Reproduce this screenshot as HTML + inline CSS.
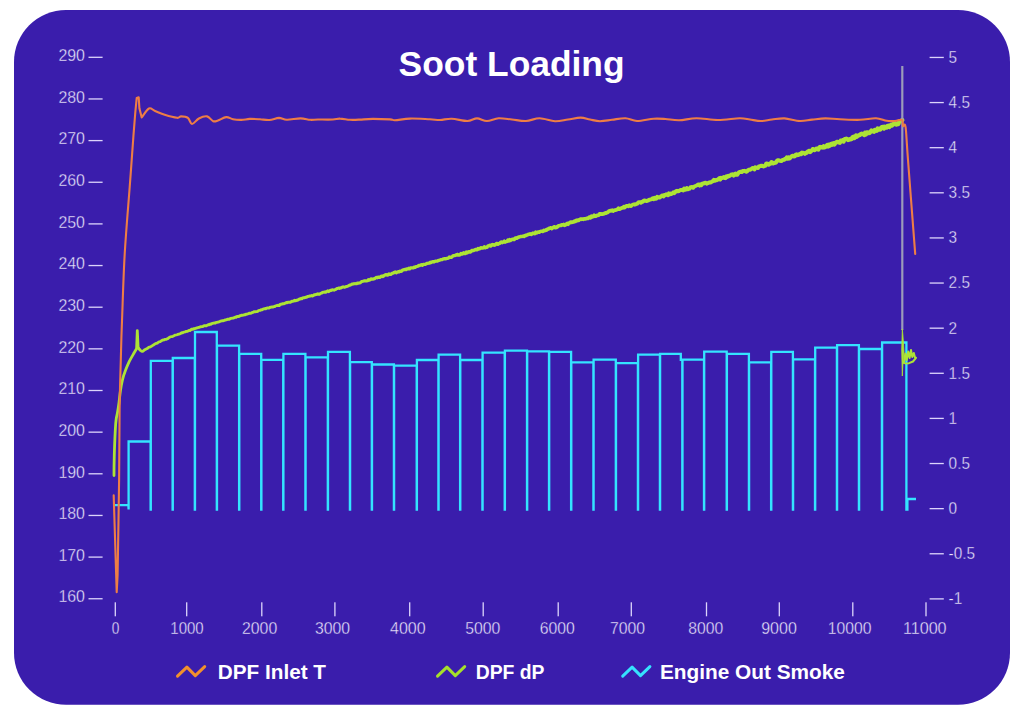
<!DOCTYPE html>
<html><head><meta charset="utf-8"><title>Soot Loading</title>
<style>html,body{margin:0;padding:0;background:#ffffff;width:1024px;height:717px;overflow:hidden}svg{display:block}</style>
</head><body>
<svg width="1024" height="717" viewBox="0 0 1024 717">
<rect x="14" y="10" width="996" height="694.8" rx="52" ry="52" fill="#3a1dac"/>
<text x="398.6" y="75.8" font-family="'Liberation Sans', sans-serif" font-weight="bold" font-size="35" fill="#ffffff" textLength="226" lengthAdjust="spacingAndGlyphs">Soot Loading</text>
<text x="85" y="61.0" text-anchor="end" font-family="'Liberation Sans', sans-serif" font-size="16.2" fill="#eee8ff" stroke="#3a1dac" stroke-width="0.35" textLength="26.62" lengthAdjust="spacingAndGlyphs">290</text>
<rect x="88.5" y="56.65" width="14.1" height="1.3" fill="#dcd4fb"/>
<text x="85" y="102.6" text-anchor="end" font-family="'Liberation Sans', sans-serif" font-size="16.2" fill="#eee8ff" stroke="#3a1dac" stroke-width="0.35" textLength="26.62" lengthAdjust="spacingAndGlyphs">280</text>
<rect x="88.5" y="98.30" width="14.1" height="1.3" fill="#dcd4fb"/>
<text x="85" y="144.3" text-anchor="end" font-family="'Liberation Sans', sans-serif" font-size="16.2" fill="#eee8ff" stroke="#3a1dac" stroke-width="0.35" textLength="26.62" lengthAdjust="spacingAndGlyphs">270</text>
<rect x="88.5" y="139.95" width="14.1" height="1.3" fill="#dcd4fb"/>
<text x="85" y="185.9" text-anchor="end" font-family="'Liberation Sans', sans-serif" font-size="16.2" fill="#eee8ff" stroke="#3a1dac" stroke-width="0.35" textLength="26.62" lengthAdjust="spacingAndGlyphs">260</text>
<rect x="88.5" y="181.60" width="14.1" height="1.3" fill="#dcd4fb"/>
<text x="85" y="227.6" text-anchor="end" font-family="'Liberation Sans', sans-serif" font-size="16.2" fill="#eee8ff" stroke="#3a1dac" stroke-width="0.35" textLength="26.62" lengthAdjust="spacingAndGlyphs">250</text>
<rect x="88.5" y="223.25" width="14.1" height="1.3" fill="#dcd4fb"/>
<text x="85" y="269.2" text-anchor="end" font-family="'Liberation Sans', sans-serif" font-size="16.2" fill="#eee8ff" stroke="#3a1dac" stroke-width="0.35" textLength="26.62" lengthAdjust="spacingAndGlyphs">240</text>
<rect x="88.5" y="264.90" width="14.1" height="1.3" fill="#dcd4fb"/>
<text x="85" y="310.9" text-anchor="end" font-family="'Liberation Sans', sans-serif" font-size="16.2" fill="#eee8ff" stroke="#3a1dac" stroke-width="0.35" textLength="26.62" lengthAdjust="spacingAndGlyphs">230</text>
<rect x="88.5" y="306.55" width="14.1" height="1.3" fill="#dcd4fb"/>
<text x="85" y="352.6" text-anchor="end" font-family="'Liberation Sans', sans-serif" font-size="16.2" fill="#eee8ff" stroke="#3a1dac" stroke-width="0.35" textLength="26.62" lengthAdjust="spacingAndGlyphs">220</text>
<rect x="88.5" y="348.20" width="14.1" height="1.3" fill="#dcd4fb"/>
<text x="85" y="394.2" text-anchor="end" font-family="'Liberation Sans', sans-serif" font-size="16.2" fill="#eee8ff" stroke="#3a1dac" stroke-width="0.35" textLength="26.62" lengthAdjust="spacingAndGlyphs">210</text>
<rect x="88.5" y="389.85" width="14.1" height="1.3" fill="#dcd4fb"/>
<text x="85" y="435.8" text-anchor="end" font-family="'Liberation Sans', sans-serif" font-size="16.2" fill="#eee8ff" stroke="#3a1dac" stroke-width="0.35" textLength="26.62" lengthAdjust="spacingAndGlyphs">200</text>
<rect x="88.5" y="431.50" width="14.1" height="1.3" fill="#dcd4fb"/>
<text x="85" y="477.5" text-anchor="end" font-family="'Liberation Sans', sans-serif" font-size="16.2" fill="#eee8ff" stroke="#3a1dac" stroke-width="0.35" textLength="26.62" lengthAdjust="spacingAndGlyphs">190</text>
<rect x="88.5" y="473.15" width="14.1" height="1.3" fill="#dcd4fb"/>
<text x="85" y="519.1" text-anchor="end" font-family="'Liberation Sans', sans-serif" font-size="16.2" fill="#eee8ff" stroke="#3a1dac" stroke-width="0.35" textLength="26.62" lengthAdjust="spacingAndGlyphs">180</text>
<rect x="88.5" y="514.80" width="14.1" height="1.3" fill="#dcd4fb"/>
<text x="85" y="560.8" text-anchor="end" font-family="'Liberation Sans', sans-serif" font-size="16.2" fill="#eee8ff" stroke="#3a1dac" stroke-width="0.35" textLength="26.62" lengthAdjust="spacingAndGlyphs">170</text>
<rect x="88.5" y="556.45" width="14.1" height="1.3" fill="#dcd4fb"/>
<text x="85" y="602.4" text-anchor="end" font-family="'Liberation Sans', sans-serif" font-size="16.2" fill="#eee8ff" stroke="#3a1dac" stroke-width="0.35" textLength="26.62" lengthAdjust="spacingAndGlyphs">160</text>
<rect x="88.5" y="598.10" width="14.1" height="1.3" fill="#dcd4fb"/>
<rect x="929.6" y="56.80" width="14.2" height="1.3" fill="#dcd4fb"/>
<text x="948.6" y="62.8" font-family="'Liberation Sans', sans-serif" font-size="16.8" fill="#eee8ff" stroke="#3a1dac" stroke-width="0.35" textLength="8.55" lengthAdjust="spacingAndGlyphs">5</text>
<rect x="929.6" y="101.92" width="14.2" height="1.3" fill="#dcd4fb"/>
<text x="948.6" y="107.9" font-family="'Liberation Sans', sans-serif" font-size="16.8" fill="#eee8ff" stroke="#3a1dac" stroke-width="0.35" textLength="21.37" lengthAdjust="spacingAndGlyphs">4.5</text>
<rect x="929.6" y="147.04" width="14.2" height="1.3" fill="#dcd4fb"/>
<text x="948.6" y="153.0" font-family="'Liberation Sans', sans-serif" font-size="16.8" fill="#eee8ff" stroke="#3a1dac" stroke-width="0.35" textLength="8.55" lengthAdjust="spacingAndGlyphs">4</text>
<rect x="929.6" y="192.16" width="14.2" height="1.3" fill="#dcd4fb"/>
<text x="948.6" y="198.1" font-family="'Liberation Sans', sans-serif" font-size="16.8" fill="#eee8ff" stroke="#3a1dac" stroke-width="0.35" textLength="21.37" lengthAdjust="spacingAndGlyphs">3.5</text>
<rect x="929.6" y="237.28" width="14.2" height="1.3" fill="#dcd4fb"/>
<text x="948.6" y="243.2" font-family="'Liberation Sans', sans-serif" font-size="16.8" fill="#eee8ff" stroke="#3a1dac" stroke-width="0.35" textLength="8.55" lengthAdjust="spacingAndGlyphs">3</text>
<rect x="929.6" y="282.40" width="14.2" height="1.3" fill="#dcd4fb"/>
<text x="948.6" y="288.4" font-family="'Liberation Sans', sans-serif" font-size="16.8" fill="#eee8ff" stroke="#3a1dac" stroke-width="0.35" textLength="21.37" lengthAdjust="spacingAndGlyphs">2.5</text>
<rect x="929.6" y="327.52" width="14.2" height="1.3" fill="#dcd4fb"/>
<text x="948.6" y="333.5" font-family="'Liberation Sans', sans-serif" font-size="16.8" fill="#eee8ff" stroke="#3a1dac" stroke-width="0.35" textLength="8.55" lengthAdjust="spacingAndGlyphs">2</text>
<rect x="929.6" y="372.64" width="14.2" height="1.3" fill="#dcd4fb"/>
<text x="948.6" y="378.6" font-family="'Liberation Sans', sans-serif" font-size="16.8" fill="#eee8ff" stroke="#3a1dac" stroke-width="0.35" textLength="21.37" lengthAdjust="spacingAndGlyphs">1.5</text>
<rect x="929.6" y="417.76" width="14.2" height="1.3" fill="#dcd4fb"/>
<text x="948.6" y="423.7" font-family="'Liberation Sans', sans-serif" font-size="16.8" fill="#eee8ff" stroke="#3a1dac" stroke-width="0.35" textLength="8.55" lengthAdjust="spacingAndGlyphs">1</text>
<rect x="929.6" y="462.88" width="14.2" height="1.3" fill="#dcd4fb"/>
<text x="948.6" y="468.8" font-family="'Liberation Sans', sans-serif" font-size="16.8" fill="#eee8ff" stroke="#3a1dac" stroke-width="0.35" textLength="21.37" lengthAdjust="spacingAndGlyphs">0.5</text>
<rect x="929.6" y="508.00" width="14.2" height="1.3" fill="#dcd4fb"/>
<text x="948.6" y="513.9" font-family="'Liberation Sans', sans-serif" font-size="16.8" fill="#eee8ff" stroke="#3a1dac" stroke-width="0.35" textLength="8.55" lengthAdjust="spacingAndGlyphs">0</text>
<rect x="929.6" y="553.12" width="14.2" height="1.3" fill="#dcd4fb"/>
<text x="948.6" y="559.1" font-family="'Liberation Sans', sans-serif" font-size="16.8" fill="#eee8ff" stroke="#3a1dac" stroke-width="0.35" textLength="26.49" lengthAdjust="spacingAndGlyphs">-0.5</text>
<rect x="929.6" y="598.24" width="14.2" height="1.3" fill="#dcd4fb"/>
<text x="948.6" y="604.2" font-family="'Liberation Sans', sans-serif" font-size="16.8" fill="#eee8ff" stroke="#3a1dac" stroke-width="0.35" textLength="13.67" lengthAdjust="spacingAndGlyphs">-1</text>
<rect x="114.65" y="602.3" width="1.3" height="14" fill="#dcd4fb"/>
<text x="115.51" y="633.9" text-anchor="middle" font-family="'Liberation Sans', sans-serif" font-size="16.5" fill="#eee8ff" stroke="#3a1dac" stroke-width="0.35" textLength="7.62" lengthAdjust="spacingAndGlyphs">0</text>
<rect x="186.05" y="602.3" width="1.3" height="14" fill="#dcd4fb"/>
<text x="187.00" y="633.9" text-anchor="middle" font-family="'Liberation Sans', sans-serif" font-size="16.5" fill="#eee8ff" stroke="#3a1dac" stroke-width="0.35" textLength="33.40" lengthAdjust="spacingAndGlyphs">1000</text>
<rect x="261.15" y="602.3" width="1.3" height="14" fill="#dcd4fb"/>
<text x="259.60" y="633.9" text-anchor="middle" font-family="'Liberation Sans', sans-serif" font-size="16.5" fill="#eee8ff" stroke="#3a1dac" stroke-width="0.35" textLength="35.20" lengthAdjust="spacingAndGlyphs">2000</text>
<rect x="334.25" y="602.3" width="1.3" height="14" fill="#dcd4fb"/>
<text x="332.55" y="633.9" text-anchor="middle" font-family="'Liberation Sans', sans-serif" font-size="16.5" fill="#eee8ff" stroke="#3a1dac" stroke-width="0.35" textLength="35.10" lengthAdjust="spacingAndGlyphs">3000</text>
<rect x="409.05" y="602.3" width="1.3" height="14" fill="#dcd4fb"/>
<text x="407.80" y="633.9" text-anchor="middle" font-family="'Liberation Sans', sans-serif" font-size="16.5" fill="#eee8ff" stroke="#3a1dac" stroke-width="0.35" textLength="35.60" lengthAdjust="spacingAndGlyphs">4000</text>
<rect x="482.55" y="602.3" width="1.3" height="14" fill="#dcd4fb"/>
<text x="482.75" y="633.9" text-anchor="middle" font-family="'Liberation Sans', sans-serif" font-size="16.5" fill="#eee8ff" stroke="#3a1dac" stroke-width="0.35" textLength="35.10" lengthAdjust="spacingAndGlyphs">5000</text>
<rect x="557.55" y="602.3" width="1.3" height="14" fill="#dcd4fb"/>
<text x="557.25" y="633.9" text-anchor="middle" font-family="'Liberation Sans', sans-serif" font-size="16.5" fill="#eee8ff" stroke="#3a1dac" stroke-width="0.35" textLength="35.10" lengthAdjust="spacingAndGlyphs">6000</text>
<rect x="630.65" y="602.3" width="1.3" height="14" fill="#dcd4fb"/>
<text x="627.55" y="633.9" text-anchor="middle" font-family="'Liberation Sans', sans-serif" font-size="16.5" fill="#eee8ff" stroke="#3a1dac" stroke-width="0.35" textLength="35.10" lengthAdjust="spacingAndGlyphs">7000</text>
<rect x="705.85" y="602.3" width="1.3" height="14" fill="#dcd4fb"/>
<text x="705.70" y="633.9" text-anchor="middle" font-family="'Liberation Sans', sans-serif" font-size="16.5" fill="#eee8ff" stroke="#3a1dac" stroke-width="0.35" textLength="35.00" lengthAdjust="spacingAndGlyphs">8000</text>
<rect x="778.65" y="602.3" width="1.3" height="14" fill="#dcd4fb"/>
<text x="779.00" y="633.9" text-anchor="middle" font-family="'Liberation Sans', sans-serif" font-size="16.5" fill="#eee8ff" stroke="#3a1dac" stroke-width="0.35" textLength="35.59" lengthAdjust="spacingAndGlyphs">9000</text>
<rect x="852.15" y="602.3" width="1.3" height="14" fill="#dcd4fb"/>
<text x="849.56" y="633.9" text-anchor="middle" font-family="'Liberation Sans', sans-serif" font-size="16.5" fill="#eee8ff" stroke="#3a1dac" stroke-width="0.35" textLength="43.71" lengthAdjust="spacingAndGlyphs">10000</text>
<rect x="925.35" y="602.3" width="1.3" height="14" fill="#dcd4fb"/>
<text x="924.76" y="633.9" text-anchor="middle" font-family="'Liberation Sans', sans-serif" font-size="16.5" fill="#eee8ff" stroke="#3a1dac" stroke-width="0.35" textLength="43.73" lengthAdjust="spacingAndGlyphs">11000</text>
<polyline points="114.6,505.2 128.4,505.2 128.6,509.5 128.6,441.5 150.6,441.5 150.6,509.5 150.8,509.5 150.8,360.9 172.6,360.9 172.6,509.5 172.8,509.5 172.8,358.0 194.8,358.0 194.8,509.5 195.0,509.5 195.0,332.0 216.8,332.0 216.8,509.5 217.0,509.5 217.0,345.7 239.1,345.7 239.1,509.5 239.3,509.5 239.3,353.9 261.2,353.9 261.2,509.5 261.4,509.5 261.4,359.9 283.2,359.9 283.2,509.5 283.4,509.5 283.4,353.9 305.4,353.9 305.4,509.5 305.6,509.5 305.6,357.3 327.8,357.3 327.8,509.5 328.0,509.5 328.0,351.9 349.9,351.9 349.9,509.5 350.1,509.5 350.1,362.1 371.8,362.1 371.8,509.5 372.0,509.5 372.0,364.5 393.9,364.5 393.9,509.5 394.1,509.5 394.1,365.7 416.7,365.7 416.7,509.5 416.9,509.5 416.9,360.0 438.4,360.0 438.4,509.5 438.6,509.5 438.6,354.7 460.1,354.7 460.1,509.5 460.3,509.5 460.3,360.0 482.4,360.0 482.4,509.5 482.6,509.5 482.6,352.7 504.7,352.7 504.7,509.5 504.9,509.5 504.9,350.6 527.0,350.6 527.0,509.5 527.2,509.5 527.2,351.4 549.0,351.4 549.0,509.5 549.2,509.5 549.2,351.9 571.1,351.9 571.1,509.5 571.3,509.5 571.3,362.3 593.4,362.3 593.4,509.5 593.6,509.5 593.6,359.7 615.8,359.7 615.8,509.5 616.0,509.5 616.0,363.1 637.9,363.1 637.9,509.5 638.1,509.5 638.1,354.7 659.9,354.7 659.9,509.5 660.1,509.5 660.1,353.9 680.8,353.9 680.8,359.8 682.3,359.8 682.3,509.5 682.5,509.5 682.5,359.7 704.0,359.7 704.0,509.5 704.2,509.5 704.2,351.6 726.7,351.6 726.7,509.5 726.9,509.5 726.9,353.8 748.9,353.8 748.9,509.5 749.1,509.5 749.1,362.3 771.1,362.3 771.1,509.5 771.3,509.5 771.3,351.9 792.9,351.9 792.9,509.5 793.1,509.5 793.1,359.4 815.0,359.4 815.0,509.5 815.2,509.5 815.2,347.7 836.9,347.7 836.9,509.5 837.1,509.5 837.1,345.2 858.9,345.2 858.9,509.5 859.1,509.5 859.1,349.0 881.9,349.0 881.9,509.5 882.1,509.5 882.1,342.5 906.4,342.5 906.4,509.5 907.4,509.5 907.4,499.0 916.0,499.0" fill="none" stroke="#34e4ff" stroke-width="2.3" stroke-linejoin="miter"/>
<path d="M114.0,475.6 C114.0,472.2 114.1,462.6 114.3,455.0 C114.5,447.4 115.0,436.0 115.3,430.0 C115.6,424.0 115.8,421.8 116.2,419.0 C116.6,416.2 116.9,415.7 117.4,413.0 C117.9,410.3 118.5,406.5 119.0,402.7 C119.5,398.9 119.9,393.9 120.5,390.2 C121.1,386.4 121.6,383.5 122.4,380.2 C123.2,376.9 124.4,373.2 125.6,370.1 C126.8,367.0 127.9,364.2 129.3,361.3 C130.8,358.4 133.1,354.6 134.3,352.5 C135.5,350.4 136.2,349.2 136.6,348.6 L137.3,330.6 L138.1,347.2 L138.7,348.3 L139.6,349.6 L140.3,350.3 L141.2,350.9 L142.3,351.4 L143.0,351.2 L143.9,350.4 L144.8,349.7 L145.7,349.2 L146.7,348.7 L147.6,348.4 L148.5,347.4 L149.5,347.2 L150.5,346.7 L151.4,346.2 L152.4,345.6 L153.4,345.0 L154.4,344.3 L155.4,343.8 L156.4,343.3 L157.3,343.1 L158.3,342.2 L159.3,341.8 L160.2,341.7 L161.1,341.0 L162.0,340.4 L162.9,340.0 L164.0,339.9 L165.1,339.3 L165.9,339.4 L166.9,338.9 L167.8,338.6 L168.8,337.7 L169.8,337.1 L170.9,336.7 L171.9,336.6 L172.9,336.3 L173.9,335.8 L174.9,335.2 L175.9,335.0 L176.9,334.8 L177.9,334.4 L178.9,334.1 L179.9,333.8 L180.8,333.4 L181.8,332.6 L182.7,332.8 L183.9,332.1 L185.1,331.9 L186.3,331.4 L187.5,331.3 L188.5,330.6 L189.4,330.4 L190.0,330.4" fill="none" stroke="#ade335" stroke-width="2.8" stroke-linejoin="round" stroke-linecap="round"/>
<polyline points="190.0,330.4 191.0,329.6 191.9,329.2 192.8,329.3 193.7,328.7 194.6,328.7 195.5,328.4 196.4,327.9 197.3,327.9 198.2,327.4 199.1,327.4 200.0,326.9 200.9,326.7 201.8,326.6 202.7,326.6 203.6,325.9 204.5,325.7 205.4,325.7 206.3,325.7 207.2,325.2 208.1,324.8 209.0,324.9 209.9,324.1 210.8,324.4 211.7,323.7 212.6,323.4 213.5,323.1 214.4,323.0 215.3,323.1 216.2,322.4 217.1,322.4 218.0,322.2 218.9,321.8 219.8,321.6 220.7,321.1 221.6,320.8 222.5,320.6 223.4,320.7 224.3,320.3 225.2,320.0 226.1,319.9 227.0,319.5 227.9,319.2 228.8,319.3 229.7,319.0 230.6,318.4 231.5,318.4 232.4,318.1 233.3,318.1 234.2,317.7 235.1,317.2 236.0,317.4 236.9,316.5 237.8,316.5 238.7,316.5 239.6,315.8 240.5,315.8 241.4,315.2 242.3,315.4 243.2,315.2 244.1,314.8 245.0,314.8 245.9,314.1 246.8,314.2 247.7,313.8 248.6,313.6 249.5,313.2 250.4,313.3 251.3,313.1 252.2,312.5 253.1,312.4 254.0,311.7 254.9,311.9 255.8,311.6 256.7,311.6 257.6,311.3 258.5,310.6 259.4,310.4 260.3,310.4 261.2,309.6 262.1,309.7 263.0,309.2 263.9,308.9 264.8,308.6 265.7,308.9 266.6,308.2 267.5,308.0 268.4,307.9 269.3,308.0 270.2,307.1 271.1,307.2 272.0,307.0 272.9,307.0 273.8,306.7 274.7,306.5 275.6,305.8 276.5,305.6 277.4,305.3 278.3,305.5 279.2,305.3" fill="none" stroke="#ade335" stroke-width="2.90" stroke-linejoin="round" stroke-linecap="round"/>
<polyline points="279.2,305.3 279.2,305.3 280.1,304.4 281.0,304.2 281.9,304.0 282.8,303.7 283.7,303.7 284.6,303.5 285.5,303.0 286.4,302.5 287.3,302.6 288.2,302.3 289.1,302.2 290.0,302.3 290.9,301.8 291.8,301.4 292.7,301.3 293.6,301.1 294.5,300.3 295.4,300.8 296.3,300.4 297.2,300.3 298.1,299.9 299.0,299.3 299.9,299.1 300.8,298.6 301.7,298.8 302.6,298.0 303.5,297.8 304.4,297.7 305.3,297.4 306.2,297.3 307.1,296.8 308.0,296.5 308.9,296.3 309.8,296.0 310.7,296.0 311.6,295.5 312.5,296.0 313.4,295.5 314.3,294.8 315.2,294.7 316.1,294.5 317.0,294.3 317.9,293.8 318.8,294.2 319.7,294.1 320.6,293.4 321.5,293.1 322.4,292.5 323.3,292.3 324.2,292.2 325.1,291.9 326.0,292.2 326.9,291.3 327.8,290.9 328.7,291.6 329.6,290.9 330.5,290.3 331.4,290.4 332.3,289.7 333.2,289.9 334.1,290.1 335.0,289.7 335.9,289.3 336.8,288.6 337.7,288.5 338.6,288.0 339.5,288.4 340.4,287.9 341.3,287.9 342.2,287.2 343.1,286.8 344.0,287.2 344.9,287.1 345.8,286.7 346.7,286.4 347.6,286.2 348.5,285.8 349.4,285.1 350.3,285.1 351.2,284.7 352.1,284.1 353.0,283.9 353.9,283.9 354.8,283.6 355.7,283.8 356.6,283.8 357.5,283.0 358.4,283.3 359.3,283.1 360.2,282.8 361.1,281.9 362.0,281.5 362.9,281.3 363.8,281.0 364.7,280.8 365.6,280.9 366.5,281.0 367.4,280.7 368.3,280.0" fill="none" stroke="#ade335" stroke-width="3.10" stroke-linejoin="round" stroke-linecap="round"/>
<polyline points="368.3,280.0 368.3,280.0 369.2,280.0 370.1,279.9 371.0,278.9 371.9,279.2 372.8,279.2 373.7,278.8 374.6,278.6 375.5,278.0 376.4,277.4 377.3,277.8 378.2,277.1 379.1,277.4 380.0,277.3 380.9,276.4 381.8,276.2 382.7,276.5 383.6,276.0 384.5,275.2 385.4,274.9 386.3,274.6 387.2,275.2 388.1,274.9 389.0,273.9 389.9,274.4 390.8,274.3 391.7,273.7 392.6,273.1 393.5,273.1 394.4,272.3 395.3,272.0 396.2,272.8 397.1,272.2 398.0,271.8 398.9,272.0 399.8,271.2 400.7,271.4 401.6,271.1 402.5,270.1 403.4,269.9 404.3,269.7 405.2,269.4 406.1,269.6 407.0,268.9 407.9,268.9 408.8,268.3 409.7,268.9 410.6,268.0 411.5,267.9 412.4,267.8 413.3,267.9 414.2,267.1 415.1,267.4 416.0,266.7 416.9,266.5 417.8,266.2 418.7,265.4 419.6,265.6 420.5,265.1 421.4,264.6 422.3,265.3 423.2,264.3 424.1,264.4 425.0,264.4 425.9,264.0 426.8,263.5 427.7,263.4 428.6,263.2 429.5,263.2 430.4,262.2 431.3,262.5 432.2,261.8 433.1,261.6 434.0,262.0 434.9,261.4 435.8,261.2 436.7,261.2 437.6,261.1 438.5,260.3 439.4,260.3 440.3,259.9 441.2,259.6 442.1,259.6 443.0,259.0 443.9,258.9 444.8,258.6 445.7,258.9 446.6,258.3 447.5,258.3 448.4,258.1 449.3,257.0 450.2,257.2 451.1,257.4 452.0,257.0 452.9,255.9 453.8,255.6 454.7,255.7 455.6,255.0 456.5,255.0 457.4,254.5" fill="none" stroke="#ade335" stroke-width="3.30" stroke-linejoin="round" stroke-linecap="round"/>
<polyline points="457.4,254.5 457.4,254.5 458.3,255.0 459.2,254.9 460.1,254.8 461.0,253.6 461.9,254.1 462.8,253.7 463.7,252.8 464.6,253.5 465.5,253.4 466.4,252.1 467.3,252.8 468.2,251.9 469.1,251.7 470.0,252.1 470.9,251.7 471.8,250.5 472.7,250.6 473.6,250.5 474.5,250.0 475.4,249.6 476.3,249.5 477.2,249.8 478.1,248.6 479.0,249.0 479.9,248.6 480.8,247.8 481.7,248.0 482.6,248.1 483.5,247.7 484.4,246.8 485.3,247.8 486.2,247.3 487.1,247.3 488.0,245.9 488.9,245.8 489.8,245.3 490.7,246.0 491.6,245.1 492.5,244.6 493.4,244.8 494.3,245.2 495.2,244.8 496.1,243.8 497.0,243.4 497.9,244.2 498.8,243.4 499.7,243.4 500.6,242.3 501.5,242.0 502.4,242.6 503.3,242.0 504.2,241.2 505.1,242.2 506.0,241.5 506.9,241.5 507.8,240.2 508.7,241.0 509.6,239.7 510.5,240.5 511.4,239.7 512.3,239.3 513.2,239.3 514.1,239.6 515.0,238.4 515.9,237.9 516.8,238.3 517.7,237.6 518.6,237.1 519.5,237.0 520.4,236.5 521.3,236.5 522.2,236.4 523.1,236.1 524.0,236.5 524.9,235.6 525.8,235.7 526.7,234.9 527.6,234.9 528.5,234.2 529.4,234.3 530.3,233.7 531.2,234.5 532.1,233.9 533.0,233.1 533.9,233.3 534.8,233.7 535.7,232.2 536.6,233.0 537.5,232.2 538.4,232.0 539.3,232.3 540.2,231.4 541.1,231.3 542.0,231.3 542.9,231.5 543.8,230.3 544.7,230.8 545.6,230.3 546.5,229.9" fill="none" stroke="#ade335" stroke-width="3.50" stroke-linejoin="round" stroke-linecap="round"/>
<polyline points="546.5,229.9 546.5,229.9 547.4,229.3 548.3,229.0 549.2,228.3 550.1,228.1 551.0,227.8 551.9,228.6 552.8,227.6 553.7,227.2 554.6,226.8 555.5,227.7 556.4,227.5 557.3,226.9 558.2,226.0 559.1,225.7 560.0,225.5 560.9,225.5 561.8,224.8 562.7,225.0 563.6,224.5 564.5,225.3 565.4,225.0 566.3,224.1 567.2,223.4 568.1,224.3 569.0,223.0 569.9,222.8 570.8,222.0 571.7,222.3 572.6,222.2 573.5,222.0 574.4,221.2 575.3,221.5 576.2,220.4 577.1,220.6 578.0,220.0 578.9,220.3 579.8,219.4 580.7,219.1 581.6,219.3 582.5,219.0 583.4,219.3 584.3,218.9 585.2,219.0 586.1,218.6 587.0,218.4 587.9,218.4 588.8,217.4 589.7,217.0 590.6,217.8 591.5,216.2 592.4,216.9 593.3,216.5 594.2,215.2 595.1,216.3 596.0,216.1 596.9,215.4 597.8,215.3 598.7,215.2 599.6,213.8 600.5,214.2 601.4,213.9 602.3,214.2 603.2,213.9 604.1,213.7 605.0,213.0 605.9,213.2 606.8,212.6 607.7,212.4 608.6,211.4 609.5,210.8 610.4,210.7 611.3,210.8 612.2,210.1 613.1,211.1 614.0,210.3 614.9,210.2 615.8,209.9 616.7,209.8 617.6,209.2 618.5,208.1 619.4,209.2 620.3,208.8 621.2,208.1 622.1,207.9 623.0,207.9 623.9,206.6 624.8,207.5 625.7,206.4 626.6,205.8 627.5,205.9 628.4,206.4 629.3,205.3 630.2,205.9 631.1,206.1 632.0,205.0 632.9,204.5 633.8,204.4 634.7,204.5" fill="none" stroke="#ade335" stroke-width="3.70" stroke-linejoin="round" stroke-linecap="round"/>
<polyline points="634.7,204.5 634.7,204.5 635.6,204.4 636.5,203.9 637.4,203.6 638.3,202.4 639.2,202.2 640.1,202.2 641.0,202.8 641.9,201.7 642.8,201.9 643.7,200.7 644.6,200.5 645.5,200.6 646.4,201.0 647.3,200.8 648.2,200.5 649.1,199.6 650.0,199.7 650.9,199.4 651.8,199.1 652.7,198.2 653.6,199.3 654.5,197.8 655.4,198.9 656.3,198.6 657.2,196.7 658.1,197.2 659.0,197.6 659.9,197.6 660.8,196.4 661.7,195.8 662.6,195.4 663.5,196.5 664.4,194.9 665.3,195.3 666.2,194.3 667.1,194.7 668.0,195.2 668.9,193.4 669.8,194.4 670.7,193.6 671.6,194.0 672.5,193.4 673.4,192.3 674.3,193.2 675.2,192.2 676.1,191.1 677.0,190.8 677.9,191.4 678.8,191.1 679.7,190.5 680.6,190.0 681.5,190.1 682.4,189.7 683.3,190.4 684.2,188.6 685.1,189.7 686.0,189.6 686.9,188.0 687.8,189.3 688.7,188.6 689.6,188.7 690.5,187.3 691.4,187.2 692.3,186.9 693.2,187.8 694.1,186.8 695.0,186.1 695.9,185.9 696.8,185.4 697.7,184.7 698.6,184.5 699.5,185.6 700.4,184.3 701.3,185.3 702.2,183.7 703.1,183.5 704.0,183.6 704.9,182.8 705.8,182.8 706.7,183.7 707.6,183.3 708.5,182.9 709.4,182.3 710.3,182.5 711.2,182.3 712.1,181.3 713.0,181.3 713.9,179.8 714.8,180.8 715.7,180.0 716.6,180.3 717.5,179.8 718.4,178.9 719.3,178.1 720.2,179.6 721.1,177.8 722.0,178.2 722.9,177.6 723.8,177.3" fill="none" stroke="#ade335" stroke-width="3.90" stroke-linejoin="round" stroke-linecap="round"/>
<polyline points="723.8,177.3 723.8,177.3 724.7,177.9 725.6,178.1 726.5,176.4 727.4,176.9 728.3,175.9 729.2,176.1 730.1,175.5 731.0,174.8 731.9,174.5 732.8,174.4 733.7,175.5 734.6,174.4 735.5,173.6 736.4,174.7 737.3,174.6 738.2,173.2 739.1,172.3 740.0,172.1 740.9,171.7 741.8,171.9 742.7,171.1 743.6,171.1 744.5,170.9 745.4,171.2 746.3,171.6 747.2,171.1 748.1,170.1 749.0,169.8 749.9,169.8 750.8,169.2 751.7,168.9 752.6,168.0 753.5,168.2 754.4,169.3 755.3,167.3 756.2,167.8 757.1,167.8 758.0,168.0 758.9,166.4 759.8,166.2 760.7,165.9 761.6,165.9 762.5,165.8 763.4,166.5 764.3,166.0 765.2,165.8 766.1,163.8 767.0,163.5 767.9,164.6 768.8,164.8 769.7,163.6 770.6,163.6 771.5,162.1 772.4,162.6 773.3,163.4 774.2,163.0 775.1,162.7 776.0,162.7 776.9,160.9 777.8,160.3 778.7,160.2 779.6,160.7 780.5,160.7 781.4,161.0 782.3,160.2 783.2,159.8 784.1,159.8 785.0,158.8 785.9,158.8 786.8,157.4 787.7,158.7 788.6,157.3 789.5,158.4 790.4,157.6 791.3,156.6 792.2,155.9 793.1,155.9 794.0,156.4 794.9,156.3 795.8,154.7 796.7,154.4 797.6,155.1 798.5,154.9 799.4,154.2 800.3,153.6 801.2,154.1 802.1,152.6 803.0,152.9 803.9,153.0 804.8,153.8 805.7,152.8 806.6,153.0 807.5,151.9 808.4,151.1 809.3,150.8 810.2,152.1 811.1,151.2 812.0,150.1 812.9,149.2" fill="none" stroke="#ade335" stroke-width="4.10" stroke-linejoin="round" stroke-linecap="round"/>
<polyline points="812.9,149.2 812.9,149.2 813.8,149.9 814.7,150.1 815.6,149.2 816.5,148.6 817.4,149.2 818.3,149.5 819.2,147.7 820.1,146.9 821.0,147.3 821.9,147.2 822.8,147.5 823.7,146.2 824.6,147.2 825.5,146.8 826.4,146.0 827.3,145.0 828.2,146.5 829.1,144.7 830.0,145.6 830.9,144.0 831.8,143.7 832.7,144.6 833.6,143.3 834.5,144.4 835.4,143.1 836.3,142.2 837.2,141.9 838.1,142.1 839.0,142.4 839.9,142.7 840.8,140.6 841.7,140.9 842.6,140.2 843.5,141.6 844.4,139.5 845.3,139.0 846.2,138.7 847.1,139.2 848.0,140.0 848.9,139.7 849.8,139.1 850.7,139.4 851.6,139.0 852.5,137.3 853.4,136.7 854.3,138.1 855.2,137.4 856.1,135.5 857.0,136.6 857.9,135.7 858.8,135.4 859.7,135.0 860.6,134.3 861.5,133.7 862.4,134.0 863.3,133.9 864.2,135.0 865.1,132.8 866.0,134.4 866.9,132.4 867.8,132.5 868.7,133.2 869.6,133.0 870.5,131.8 871.4,130.6 872.3,131.3 873.2,130.8 874.1,131.7 875.0,129.8 875.9,129.9 876.8,130.8 877.7,128.5 878.6,129.1 879.5,129.7 880.4,129.4 881.3,127.4 882.2,127.0 883.1,126.8 884.0,128.5 884.9,126.7 885.8,127.6 886.7,127.6 887.6,126.0 888.5,125.6 889.4,126.9 890.3,125.8 891.2,124.7 892.1,125.4 893.0,124.2 893.9,123.8 894.8,122.9 895.7,124.4 896.6,124.5 897.5,123.5 898.4,123.9 899.3,121.4 900.2,121.6 902.3,120.0" fill="none" stroke="#ade335" stroke-width="4.30" stroke-linejoin="round" stroke-linecap="round"/>
<line x1="902.3" y1="66" x2="902.3" y2="330" stroke="#9c9cba" stroke-width="2.2"/>
<path d="M902.3,329 L901.7,350 L902.3,376 L903.0,362 L904.0,352 L902.9,335 Z" fill="#ade335" stroke="#ade335" stroke-width="0.8" stroke-linejoin="round"/>
<polyline points="903.8,363 905.3,353.5 906.7,360 908.2,351.5 909.6,358 911,350 912.3,357 913.8,353 915,357.5 916,357.8 913,361.5 909,363.2 905.5,363.5" fill="none" stroke="#ade335" stroke-width="2.0" stroke-linejoin="round" stroke-linecap="round"/>
<path d="M113.7,495.4 L116.7,592.1 L117.6,575  C117.8,559.2 118.8,507.5 119.1,480.0 C119.4,452.5 119.3,430.0 119.6,410.0 C119.9,390.0 120.3,374.8 120.8,360.0 C121.2,345.2 121.3,338.7 122.0,321.0 C122.7,303.3 123.4,276.3 124.7,254.0 C126.0,231.7 128.2,206.8 129.7,187.0 C131.2,167.2 132.9,143.7 133.5,135.0 L135.3,112.3 L136.7,98 L138.7,97.3 L139.4,108.2 L141.7,117.4  C142.9,115.9 146.8,109.6 149.0,108.5 C151.2,107.4 152.5,110.0 155.1,111.0 C157.7,112.0 161.0,113.7 164.7,114.8 C168.3,115.9 174.3,117.5 177.0,117.8 C179.7,118.1 179.3,116.4 181.1,116.4 C182.9,116.4 186.1,116.5 187.9,117.8 C189.7,119.1 190.2,123.9 192.0,124.0 C193.8,124.1 196.4,119.8 198.9,118.5 C201.4,117.2 204.7,116.0 207.1,116.4 C209.5,116.9 211.4,120.5 213.2,121.2 C215.0,121.9 215.8,121.2 218.0,120.5 C220.2,119.8 223.7,117.3 226.2,117.1 C228.7,116.9 230.5,118.7 233.0,119.2 C235.5,119.7 238.5,120.0 241.3,119.9 C244.1,119.9 246.7,119.0 249.8,118.9 C252.9,118.8 256.8,119.1 260.0,119.3 C263.2,119.5 266.1,120.2 269.3,120.0 C272.5,119.8 276.1,118.0 279.0,117.9 C281.9,117.9 283.3,119.6 286.9,119.7 C290.5,119.8 296.6,118.4 300.5,118.4 C304.4,118.4 307.4,119.6 310.3,119.8 C313.2,120.0 314.2,119.5 318.0,119.5 C321.8,119.5 329.1,119.7 332.8,119.5 C336.5,119.3 337.1,118.5 340.0,118.6 C342.9,118.6 346.7,119.6 350.0,119.8 C353.3,120.0 356.2,119.8 360.0,119.6 C363.8,119.4 368.0,118.9 373.0,118.9 C378.0,118.9 386.3,119.2 390.0,119.4 C393.7,119.6 391.7,120.4 395.0,120.3 C398.3,120.2 404.2,118.8 410.0,118.6 C415.8,118.4 425.0,119.1 430.0,119.3 C435.0,119.5 436.4,120.1 440.0,120.0 C443.6,119.9 447.1,118.5 451.7,118.7 C456.2,118.9 463.1,121.0 467.3,121.0 C471.5,121.0 473.7,118.4 477.0,118.4 C480.3,118.4 483.3,121.0 486.9,121.0 C490.5,121.0 494.4,118.5 498.6,118.2 C502.8,118.0 507.4,119.0 512.0,119.5 C516.6,120.0 521.4,121.2 526.0,121.0 C530.6,120.8 534.8,118.2 539.6,118.2 C544.4,118.2 550.3,121.1 555.0,121.3 C559.7,121.5 563.7,120.1 568.0,119.5 C572.3,118.9 576.9,117.6 580.6,117.6 C584.3,117.6 586.8,118.9 590.0,119.5 C593.2,120.1 596.3,121.2 600.0,121.2 C603.7,121.2 607.8,120.3 612.0,119.8 C616.2,119.3 621.3,118.0 625.5,118.2 C629.7,118.4 632.3,120.9 637.0,121.0 C641.7,121.1 649.0,119.0 653.7,118.7 C658.4,118.4 661.2,118.7 665.4,119.0 C669.6,119.3 673.8,120.4 679.0,120.3 C684.2,120.2 690.1,118.2 696.6,118.2 C703.1,118.2 710.8,120.0 718.0,120.0 C725.2,120.0 734.3,118.3 739.6,118.2 C744.9,118.1 746.4,119.0 750.0,119.5 C753.6,120.0 757.3,121.0 761.0,121.0 C764.7,121.0 768.1,119.9 772.0,119.5 C775.9,119.1 779.8,118.2 784.5,118.4 C789.2,118.7 795.4,120.8 800.0,121.0 C804.6,121.2 807.8,120.0 812.0,119.6 C816.2,119.2 820.8,118.5 825.5,118.4 C830.2,118.4 834.2,119.1 840.0,119.3 C845.8,119.5 854.0,120.0 860.0,119.8 C866.0,119.6 871.5,118.0 876.0,118.2 C880.5,118.4 883.5,120.3 886.7,120.8 C889.9,121.3 892.5,121.1 895.0,121.0 C897.5,120.9 900.7,119.2 902.0,120.0 C903.3,120.8 902.4,124.8 903.0,126.0 C903.6,127.2 904.8,121.5 905.6,127.2 C906.4,132.9 906.4,138.9 908.0,160.0 C909.6,181.1 914.0,238.2 915.2,253.9" fill="none" stroke="#ee7d45" stroke-width="2.1" stroke-linejoin="round" stroke-linecap="round"/>
<polyline points="177.5,676.1 186.9,667.1 195.3,675.6 204.7,666.6" fill="none" stroke="#f2902c" stroke-width="3" stroke-linecap="round" stroke-linejoin="round"/>
<text x="217.8" y="678.6" font-family="'Liberation Sans', sans-serif" font-weight="bold" font-size="20" fill="#ffffff" textLength="108.2" lengthAdjust="spacingAndGlyphs">DPF Inlet T</text>
<polyline points="437.5,676.1 446.9,667.1 455.3,675.6 464.7,666.6" fill="none" stroke="#a6e02a" stroke-width="3" stroke-linecap="round" stroke-linejoin="round"/>
<text x="475.7" y="678.6" font-family="'Liberation Sans', sans-serif" font-weight="bold" font-size="20" fill="#ffffff" textLength="68.8" lengthAdjust="spacingAndGlyphs">DPF dP</text>
<polyline points="622.7,676.1 632.1,667.1 640.5,675.6 649.9000000000001,666.6" fill="none" stroke="#36e2fe" stroke-width="3" stroke-linecap="round" stroke-linejoin="round"/>
<text x="660" y="678.6" font-family="'Liberation Sans', sans-serif" font-weight="bold" font-size="20" fill="#ffffff" textLength="184.9" lengthAdjust="spacingAndGlyphs">Engine Out Smoke</text>
</svg>
</body></html>
